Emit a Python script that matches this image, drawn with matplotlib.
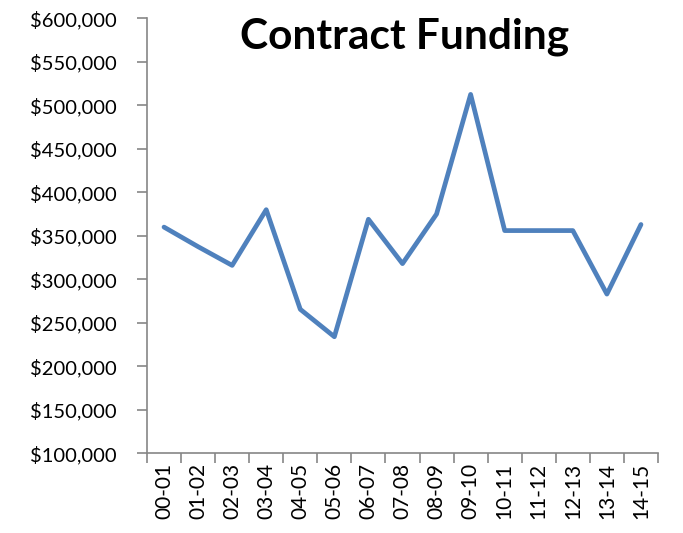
import matplotlib
matplotlib.use("Agg")
import matplotlib.pyplot as plt
from matplotlib.ticker import FuncFormatter, MultipleLocator

categories = ["00-01", "01-02", "02-03", "03-04", "04-05", "05-06", "06-07", "07-08",
              "08-09", "09-10", "10-11", "11-12", "12-13", "13-14", "14-15"]
funding = [360000, 337500, 316000, 380000, 265500, 234000, 369000, 318000,
           375000, 512500, 356000, 356000, 356000, 283000, 363000]

plt.rcParams['font.family'] = ['Lato', 'DejaVu Sans']

fig = plt.figure(figsize=(6.83, 5.33), dpi=100)
ax = fig.add_axes([0.2152, 0.1495, 0.9634 - 0.2152, 0.9657 - 0.1495])

x = list(range(len(categories)))
ax.plot(x, funding, color="#4F81BD", linewidth=3.4, solid_joinstyle="round", solid_capstyle="round")

ax.set_ylim(100000, 600000)
ax.set_xlim(-0.5, len(categories) - 0.5)
ax.yaxis.set_major_locator(MultipleLocator(50000))
ax.yaxis.set_major_formatter(FuncFormatter(lambda v, p: "${:,.0f}".format(v)))

ax.set_xticks(x)
ax.set_xticklabels(categories, rotation=90)
ax.set_xticks([i - 0.5 for i in range(len(categories) + 1)], minor=True)
ax.tick_params(axis="x", which="major", length=0, pad=7, labelsize=15, colors="black")
ax.tick_params(axis="x", which="minor", length=7, width=1.2, color="#868686", direction="out")
ax.tick_params(axis="y", which="major", length=7, width=1.2, color="#868686", labelsize=14.5,
               labelcolor="black", pad=15)

for s in ["top", "right"]:
    ax.spines[s].set_visible(False)
for s in ["left", "bottom"]:
    ax.spines[s].set_color("#868686")
    ax.spines[s].set_linewidth(1.2)

fig.text(405 / 683, 1 - 37 / 533, "Contract Funding", ha="center", va="center",
         fontsize=30.5, fontweight="bold", color="black")

fig.savefig("out.png", dpi=100)
